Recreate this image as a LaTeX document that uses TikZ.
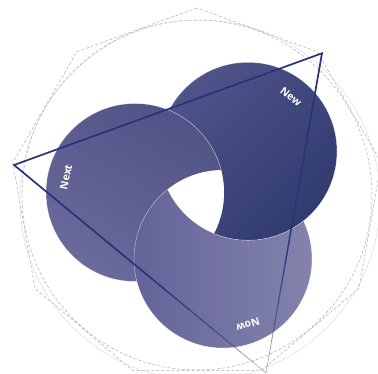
\documentclass[tikz,border=0pt]{standalone}
\usepackage{fontspec}
\setsansfont{Open Sans}
\usepackage{tikz}
\usetikzlibrary{shapes.geometric,calc}
\definecolor{navy}{HTML}{27337A}
\definecolor{newtop}{HTML}{4F5389}
\definecolor{newbot}{HTML}{313B6F}
\definecolor{nexttop}{HTML}{515286}
\definecolor{nextbot}{HTML}{6A6A9B}
\definecolor{nowleft}{HTML}{646399}
\definecolor{nowright}{HTML}{8383AD}
\tikzset{
  ringlabel/.style={text=white, font=\sffamily\bfseries\fontsize{10.5}{12}\selectfont, inner sep=0pt},
  rim/.style={draw=white, draw opacity=0.55, line width=0.5pt},
  guide/.style={draw=gray!65, line width=0.5pt, dash pattern=on 3pt off 2pt},
  tri/.style={draw=navy, line width=1.7pt, line join=miter}
}

\begin{document}
\begin{tikzpicture}[x=1pt, y=1pt]
\useasboundingbox (0,0) rectangle (378,374);
\clip (0,0) rectangle (378,374);
\def\rad{89}
\coordinate (next) at (135,181.5);
\coordinate (new) at (248,222.7);
\coordinate (now) at (223,115);
\coordinate (mid) at (197,179);
% guide rings
\node[guide, regular polygon, regular polygon sides=9, minimum size=374, inner sep=0pt] (outerring) at (mid) {};
\draw[guide] (mid) circle (175);
\draw[gray!35, line width=0.35pt] (200,174) circle (180);
% the three discs, each one over the next
\shade[top color=nexttop, bottom color=nextbot, shading angle=-30] (next) circle (\rad);
\begin{scope}[even odd rule]
  \clip (0,0) rectangle (378,374) (next) circle (\rad);
  \shade[top color=newtop, bottom color=newbot, shading angle=45] (new) circle (\rad);
\end{scope}
\begin{scope}[even odd rule]
  \clip (0,0) rectangle (378,374) (new) circle (\rad);
  \shade[left color=nowleft, right color=nowright] (now) circle (\rad);
\end{scope}
% rims
\begin{scope}[even odd rule]
  \clip (0,0) rectangle (378,374) (now) circle (\rad);
  \draw[rim] (next) circle (\rad);
\end{scope}
\begin{scope}[even odd rule]
  \clip (0,0) rectangle (378,374) (next) circle (\rad);
  \draw[rim] (new) circle (\rad);
\end{scope}
\begin{scope}[even odd rule]
  \clip (0,0) rectangle (378,374) (new) circle (\rad);
  \draw[rim] (now) circle (\rad);
\end{scope}
% hole
\begin{scope}
  \clip (next) circle (\rad);
  \clip (new) circle (\rad);
  \fill[white] (now) circle (\rad);
\end{scope}
% triangle, fading out toward the bottom corner
\coordinate (ta) at (322,320.7);
\coordinate (tb) at (14,209);
\coordinate (tc) at (266,1);
\draw[tri] ($(tb)!0.5!(tc)$) -- (tb) -- (ta) -- ($(ta)!0.5!(tc)$);
\foreach \k in {0,...,9}{
  \pgfmathsetmacro\s{0.5+0.05*\k}
  \pgfmathsetmacro\e{0.55+0.05*\k}
  \pgfmathsetmacro\w{1.7-0.11*\k}
  \pgfmathsetmacro\o{1-0.07*\k}
  \draw[navy, line width=\w pt, draw opacity=\o] ($(tb)!\s!(tc)$) -- ($(tb)!\e!(tc)$);
  \draw[navy, line width=\w pt, draw opacity=\o] ($(ta)!\s!(tc)$) -- ($(ta)!\e!(tc)$);
}
% labels
\node[ringlabel, rotate=-38] (newlabel) at (291,277) {New};
\node[ringlabel, rotate=77] (nextlabel) at (66,197) {Next};
\node[ringlabel, rotate=197] (nowlabel) at (248,49) {Now};
\end{tikzpicture}
\end{document}
